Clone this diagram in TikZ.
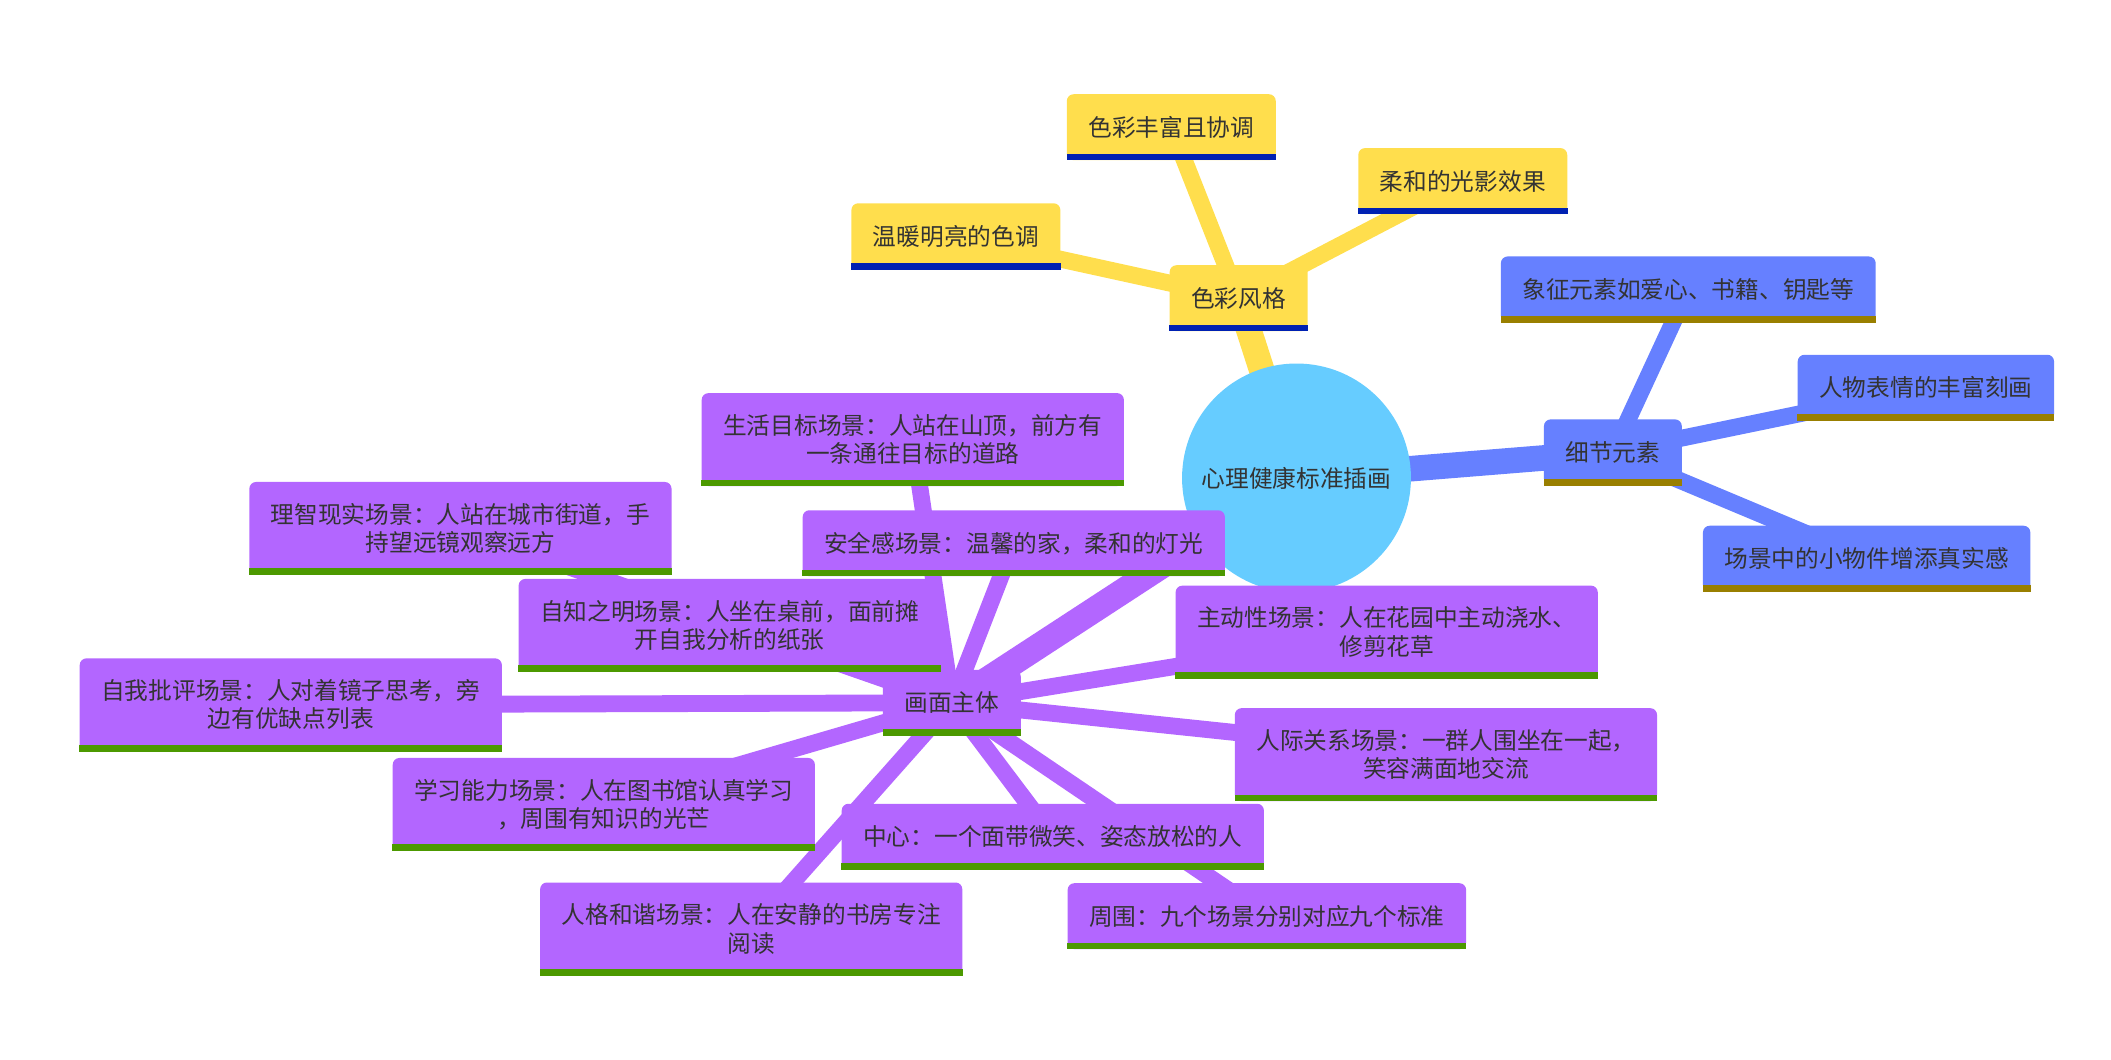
\documentclass[tikz,border=0pt]{standalone}
\usepackage{fontspec}
\setmainfont{Noto Sans CJK SC}
\usetikzlibrary{backgrounds}

\definecolor{rootcol}{HTML}{66CCFF}
\definecolor{yelcol}{HTML}{FFDE4D}
\definecolor{yelline}{HTML}{0021B2}
\definecolor{bluecol}{HTML}{6680FF}
\definecolor{blueline}{HTML}{997F00}
\definecolor{purcol}{HTML}{B366FF}
\definecolor{purline}{HTML}{4C9900}
\definecolor{txtcol}{HTML}{333333}

\tikzset{
    box/.style={fill=#1, rounded corners=5pt, inner xsep=16pt, inner ysep=0pt,
        minimum height=49pt, align=center, text=txtcol,
        font=\fontsize{17.6}{21}\selectfont},
    tallbox/.style={box=#1, minimum height=69pt},
    trunk/.style={draw=#1, line width=19pt},
    twig/.style={draw=#1, line width=12.5pt},
}

\begin{document}
\begin{tikzpicture}[x=1pt,y=-1pt]
    \useasboundingbox (0,0) rectangle (1568,787);

    \node[circle, fill=rootcol, minimum size=170pt, inner sep=0pt, text=txtcol,
        font=\fontsize{17.6}{21}\selectfont] (root) at (963,355) {心理健康标准插画};

    % colour branch
    \node[box=yelcol] (colour) at (920,221.5) {色彩风格};
    \node[box=yelcol] (rich) at (870,94.5) {色彩丰富且协调};
    \node[box=yelcol] (soft) at (1086.5,134.5) {柔和的光影效果};
    \node[box=yelcol] (warm) at (710,175.5) {温暖明亮的色调};

    % detail branch
    \node[box=bluecol] (detail) at (1198,336) {细节元素};
    \node[box=bluecol] (symbol) at (1254,215) {象征元素如爱心、书籍、钥匙等};
    \node[box=bluecol] (face) at (1430.5,288) {人物表情的丰富刻画};
    \node[box=bluecol] (props) at (1386.5,415) {场景中的小物件增添真实感};

    % scene branch
    \node[box=purcol] (scene) at (707,522) {画面主体};
    \node[tallbox=purcol] (goal) at (678,326.5) {生活目标场景：人站在山顶，前方有\\一条通往目标的道路};
    \node[tallbox=purcol] (reason) at (342,392.5) {理智现实场景：人站在城市街道，手\\持望远镜观察远方};
    \node[box=purcol] (safe) at (753,403.5) {安全感场景：温馨的家，柔和的灯光};
    \node[tallbox=purcol] (self) at (542,464.5) {自知之明场景：人坐在桌前，面前摊\\开自我分析的纸张};
    \node[tallbox=purcol] (active) at (1030,469.5) {主动性场景：人在花园中主动浇水、\\修剪花草};
    \node[tallbox=purcol] (critic) at (216,523.5) {自我批评场景：人对着镜子思考，旁\\边有优缺点列表};
    \node[tallbox=purcol] (social) at (1074,560.5) {人际关系场景：一群人围坐在一起，\\笑容满面地交流};
    \node[tallbox=purcol] (learn) at (448.5,597.5) {学习能力场景：人在图书馆认真学习\\，周围有知识的光芒};
    \node[box=purcol] (centre) at (782,621.5) {中心：一个面带微笑、姿态放松的人};
    \node[tallbox=purcol] (harmony) at (558,690) {人格和谐场景：人在安静的书房专注\\阅读};
    \node[box=purcol] (around) at (941,680.5) {周围：九个场景分别对应九个标准};

    % bottom stripes
    \foreach \n/\c in {colour/yelline, rich/yelline, soft/yelline, warm/yelline,
        detail/blueline, symbol/blueline, face/blueline, props/blueline,
        scene/purline, goal/purline, reason/purline, safe/purline, self/purline,
        active/purline, critic/purline, social/purline, learn/purline,
        centre/purline, harmony/purline, around/purline}
        \fill[\c] (\n.south west) rectangle ([yshift=5pt]\n.south east);

    % connectors
    \begin{scope}[on background layer]
        \draw[trunk=yelcol] (root.center) -- (colour.center);
        \draw[trunk=bluecol] (root.center) -- (detail.center);
        \draw[trunk=purcol] (root.center) -- (scene.center);
        \foreach \n in {rich, soft, warm}
            \draw[twig=yelcol] (colour.center) -- (\n.center);
        \foreach \n in {symbol, face, props}
            \draw[twig=bluecol] (detail.center) -- (\n.center);
        \foreach \n in {goal, reason, safe, self, active, critic, social, learn, centre, harmony, around}
            \draw[twig=purcol] (scene.center) -- (\n.center);
    \end{scope}
\end{tikzpicture}
\end{document}
